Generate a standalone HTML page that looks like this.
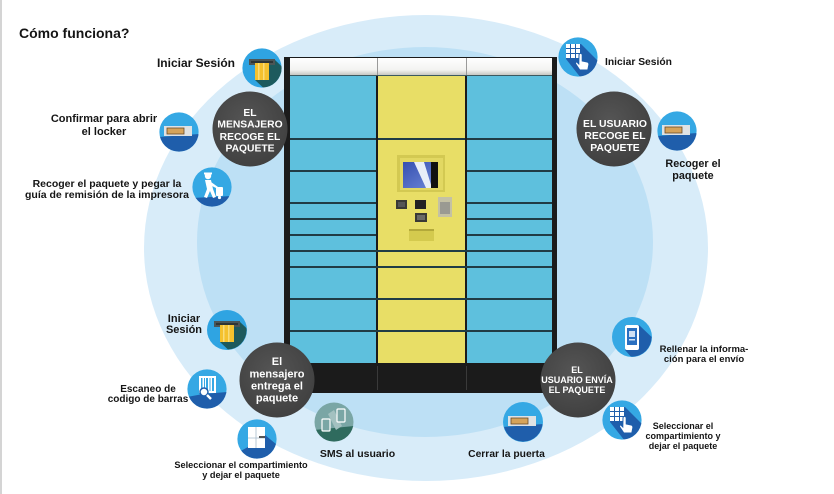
<!DOCTYPE html>
<html><head><meta charset="utf-8"><style>
html,body{margin:0;padding:0;background:#fff;}
svg{display:block;}
text{font-family:"Liberation Sans",Arial,sans-serif;font-weight:bold;}
.l{fill:#151515;}
.m{text-anchor:middle;}
.w{fill:#fff;text-anchor:middle;}
</style></head><body>
<svg width="834" height="494" viewBox="0 0 834 494" xmlns="http://www.w3.org/2000/svg">
<defs>
<clipPath id="ic"><circle cx="0" cy="0" r="19.6"/></clipPath>
<linearGradient id="scr" x1="0" y1="0" x2="1" y2="1">
 <stop offset="0" stop-color="#3550b0"/><stop offset="1" stop-color="#6f88d8"/>
</linearGradient>
<linearGradient id="top" x1="0" y1="0" x2="0" y2="1">
 <stop offset="0" stop-color="#ffffff"/><stop offset="0.7" stop-color="#f3f3f1"/><stop offset="1" stop-color="#c8c8c2"/>
</linearGradient>
<radialGradient id="dk" cx="0.45" cy="0.4" r="0.65">
 <stop offset="0" stop-color="#555"/><stop offset="1" stop-color="#3f3f3f"/>
</radialGradient>
</defs>

<rect width="834" height="494" fill="#fff"/>
<rect x="0" y="0" width="2" height="494" fill="#d4d4d4"/>

<!-- background ellipses -->
<ellipse cx="426" cy="248" rx="282" ry="233" fill="#d8ecf9"/>
<ellipse cx="425" cy="242" rx="228" ry="195" fill="#bde0f5"/>

<!-- locker -->
<rect x="284" y="57" width="273" height="336" fill="#1b1b1b"/>
<rect x="290" y="58" width="262" height="17" fill="url(#top)"/>
<line x1="377.5" y1="58" x2="377.5" y2="75" stroke="#9a9a9a" stroke-width="1"/>
<line x1="466.5" y1="58" x2="466.5" y2="75" stroke="#9a9a9a" stroke-width="1"/>
<rect x="290" y="75" width="86" height="288" fill="#5ec0dd"/>
<rect x="378" y="75" width="87" height="288" fill="#e8de66"/>
<rect x="467" y="75" width="85" height="288" fill="#5ec0dd"/>
<line x1="290" y1="75.5" x2="552" y2="75.5" stroke="#3c5a60" stroke-width="1"/>
<g stroke="#203c45" stroke-width="2">
 <line x1="290" y1="139" x2="376" y2="139"/><line x1="467" y1="139" x2="552" y2="139"/>
 <line x1="290" y1="171" x2="376" y2="171"/><line x1="467" y1="171" x2="552" y2="171"/>
 <line x1="290" y1="203" x2="376" y2="203"/><line x1="467" y1="203" x2="552" y2="203"/>
 <line x1="290" y1="219" x2="376" y2="219"/><line x1="467" y1="219" x2="552" y2="219"/>
 <line x1="290" y1="235" x2="376" y2="235"/><line x1="467" y1="235" x2="552" y2="235"/>
 <line x1="290" y1="251" x2="552" y2="251"/>
 <line x1="290" y1="267" x2="552" y2="267"/>
 <line x1="290" y1="299" x2="552" y2="299"/>
 <line x1="290" y1="331" x2="552" y2="331"/>
 <line x1="378" y1="139" x2="465" y2="139"/>
</g>
<line x1="377.5" y1="366" x2="377.5" y2="390" stroke="#3a3a3a" stroke-width="1"/>
<line x1="466.5" y1="366" x2="466.5" y2="390" stroke="#3a3a3a" stroke-width="1"/>

<!-- control panel -->
<rect x="397" y="155" width="48" height="37" fill="#d3c952"/>
<rect x="400" y="158" width="43" height="32" fill="#e2d862"/>
<rect x="403" y="162" width="35" height="26" fill="url(#scr)"/>
<polygon points="414,162 424,162 432,188 426,188" fill="#e8eef8"/>
<rect x="431" y="162" width="7" height="26" fill="#111"/>
<rect x="396" y="200" width="11" height="9" fill="#3a3a36"/>
<rect x="398" y="202" width="7" height="5" fill="#555"/>
<rect x="415" y="200" width="11" height="9" fill="#222"/>
<rect x="415" y="213" width="12" height="9" fill="#3a3a36"/>
<rect x="417" y="215" width="8" height="5" fill="#6a6a66"/>
<rect x="438" y="197" width="14" height="20" fill="#c4c1a4"/>
<rect x="440" y="202" width="10" height="12" fill="#9a9a92"/>
<rect x="409" y="229" width="25" height="12" fill="#d4ca4e"/>
<rect x="409" y="229" width="25" height="2" fill="#b3a93a"/>

<!-- dark circles -->
<circle cx="250" cy="129" r="37.5" fill="url(#dk)"/>
<circle cx="614" cy="129" r="37.5" fill="url(#dk)"/>
<circle cx="277" cy="380" r="37.5" fill="url(#dk)"/>
<circle cx="578" cy="380" r="37.5" fill="url(#dk)"/>

<text class="w" font-size="10.3" x="250" y="116">EL</text>
<text class="w" font-size="10.3" x="250" y="127.5">MENSAJERO</text>
<text class="w" font-size="10.3" x="250" y="140">RECOGE EL</text>
<text class="w" font-size="10.3" x="250" y="151.5">PAQUETE</text>

<text class="w" font-size="10.4" x="615" y="127">EL USUARIO</text>
<text class="w" font-size="10.4" x="615" y="139">RECOGE EL</text>
<text class="w" font-size="10.4" x="615" y="151">PAQUETE</text>

<text class="w" font-size="11" x="277" y="365">El</text>
<text class="w" font-size="11" x="277" y="377.5">mensajero</text>
<text class="w" font-size="11" x="277" y="389.5">entrega el</text>
<text class="w" font-size="11" x="277" y="401.5">paquete</text>

<text class="w" font-size="9" x="577" y="373">EL</text>
<text class="w" font-size="9" x="577" y="383">USUARIO ENVÍA</text>
<text class="w" font-size="9" x="577" y="393">EL PAQUETE</text>

<!-- ICONS -->
<!-- card TL -->
<g transform="translate(262,68)">
 <circle r="19.6" fill="#2fa4e2"/>
 <g clip-path="url(#ic)">
  <polygon points="13,-8 13,-3 7,-3 7,12 -7,12 8,26 30,26 30,8" fill="#1d5a5d"/>
  <rect x="-13" y="-9" width="26" height="6" fill="#4b5556"/>
  <rect x="-11" y="-7" width="22" height="2" fill="#2d3536"/>
  <rect x="-7" y="-5" width="14" height="17" fill="#f4c12e"/>
  <rect x="-4" y="-5" width="1.5" height="17" fill="#f9dc7a"/>
  <rect x="1" y="-5" width="1.5" height="17" fill="#f9dc7a"/>
 </g>
</g>
<!-- card BL -->
<g transform="translate(227,330)">
 <circle r="20" fill="#2fa4e2"/>
 <g clip-path="url(#ic)">
  <polygon points="13,-8 13,-3 7,-3 7,12 -7,12 8,26 30,26 30,8" fill="#1d5a5d"/>
  <rect x="-13" y="-9" width="26" height="6" fill="#4b5556"/>
  <rect x="-11" y="-7" width="22" height="2" fill="#2d3536"/>
  <rect x="-7" y="-5" width="14" height="17" fill="#f4c12e"/>
  <rect x="-4" y="-5" width="1.5" height="17" fill="#f9dc7a"/>
  <rect x="1" y="-5" width="1.5" height="17" fill="#f9dc7a"/>
 </g>
</g>

<!-- box icons -->
<g transform="translate(179,132)">
 <circle r="19.6" fill="#35a8e4"/>
 <g clip-path="url(#ic)">
  <polygon points="-20,5 20,2 20,22 -20,22" fill="#1f5eab"/>
  <rect x="-15" y="-6" width="28" height="10" fill="#dfe2e4"/>
  <rect x="-12" y="-4" width="17" height="6" fill="#d6a35a" stroke="#6a4a28" stroke-width="0.8"/>
 </g>
</g>
<g transform="translate(677,131)">
 <circle r="19.6" fill="#35a8e4"/>
 <g clip-path="url(#ic)">
  <polygon points="-20,5 20,2 20,22 -20,22" fill="#1f5eab"/>
  <rect x="-15" y="-6" width="28" height="10" fill="#dfe2e4"/>
  <rect x="-12" y="-4" width="17" height="6" fill="#d6a35a" stroke="#6a4a28" stroke-width="0.8"/>
 </g>
</g>
<g transform="translate(523,422)">
 <circle r="20" fill="#35a8e4"/>
 <g clip-path="url(#ic)">
  <polygon points="-20,5 20,2 20,22 -20,22" fill="#1f5eab"/>
  <rect x="-15" y="-6" width="28" height="10" fill="#dfe2e4"/>
  <rect x="-12" y="-4" width="17" height="6" fill="#d6a35a" stroke="#6a4a28" stroke-width="0.8"/>
 </g>
</g>

<!-- person -->
<g transform="translate(212,187)">
 <circle r="19.6" fill="#35a8e4"/>
 <g clip-path="url(#ic)">
  <polygon points="-20,11 20,9 20,22 -20,22" fill="#1f5eab"/>
  <circle cx="-4" cy="-11" r="3.2" fill="#fff"/>
  <rect x="-8" y="-14.5" width="8" height="2" fill="#fff"/>
  <path d="M-7,-7 L-1,-7 L1,2 L4,10 L1,11 L-2,4 L-5,11 L-8,10 L-5,2 Z" fill="#fff"/>
  <path d="M-1,-5 L6,0 L5,1.5 L-2,-2 Z" fill="#fff"/>
  <rect x="4" y="0" width="7" height="9" rx="1" fill="#fff"/>
  <circle cx="7.5" cy="10.5" r="1.6" fill="#fff"/>
 </g>
</g>

<!-- keypad icons -->
<g transform="translate(578,57)">
 <circle r="19.6" fill="#35a8e4"/>
 <g clip-path="url(#ic)">
  <polygon points="-12,-13 3,-13 30,14 30,30 10,30 -12,2" fill="#1f5eab"/>
  <g fill="#fff">
   <rect x="-12" y="-13" width="4" height="4"/><rect x="-7" y="-13" width="4" height="4"/><rect x="-2" y="-13" width="4" height="4"/>
   <rect x="-12" y="-8" width="4" height="4"/><rect x="-7" y="-8" width="4" height="4"/><rect x="-2" y="-8" width="4" height="4"/>
   <rect x="-12" y="-3" width="4" height="4"/><rect x="-7" y="-3" width="4" height="4"/><rect x="-2" y="-3" width="4" height="4"/>
  </g>
  <path d="M1,-2 a1.6,1.6 0 0 1 3.2,0 v6 l5,1 q2,0.5 1.6,3 l-1,5 h-8 l-4,-6 q-1,-2 1,-2 l2,2 z" fill="#fff" stroke="#1f5eab" stroke-width="1"/>
 </g>
</g>
<g transform="translate(622,420)">
 <circle r="19.6" fill="#35a8e4"/>
 <g clip-path="url(#ic)">
  <polygon points="-12,-13 3,-13 30,14 30,30 10,30 -12,2" fill="#1f5eab"/>
  <g fill="#fff">
   <rect x="-12" y="-13" width="4" height="4"/><rect x="-7" y="-13" width="4" height="4"/><rect x="-2" y="-13" width="4" height="4"/>
   <rect x="-12" y="-8" width="4" height="4"/><rect x="-7" y="-8" width="4" height="4"/><rect x="-2" y="-8" width="4" height="4"/>
   <rect x="-12" y="-3" width="4" height="4"/><rect x="-7" y="-3" width="4" height="4"/><rect x="-2" y="-3" width="4" height="4"/>
  </g>
  <path d="M1,-2 a1.6,1.6 0 0 1 3.2,0 v6 l5,1 q2,0.5 1.6,3 l-1,5 h-8 l-4,-6 q-1,-2 1,-2 l2,2 z" fill="#fff" stroke="#1f5eab" stroke-width="1"/>
 </g>
</g>

<!-- phone -->
<g transform="translate(632,337)">
 <circle r="20" fill="#35a8e4"/>
 <g clip-path="url(#ic)">
  <polygon points="-7,-12 7,-12 30,10 30,30 8,30 -7,13" fill="#1f5eab"/>
  <rect x="-7" y="-12" width="14" height="25" rx="2" fill="#fff"/>
  <rect x="-5" y="-9" width="10" height="17" fill="#2a6fc0"/>
  <rect x="-3" y="-6" width="6" height="6" fill="#cfe0f4"/>
  <rect x="-3" y="2" width="6" height="1.5" fill="#cfe0f4"/>
 </g>
</g>

<!-- barcode -->
<g transform="translate(207,389)">
 <circle r="19.6" fill="#35a8e4"/>
 <g clip-path="url(#ic)">
  <polygon points="-20,8 -4,5 20,3 20,22 -20,22" fill="#1f5eab"/>
  <rect x="-8" y="-13" width="17" height="17" fill="#fff"/>
  <g fill="#35a8e4">
   <rect x="-6" y="-11" width="1.5" height="13"/><rect x="-3" y="-11" width="1" height="13"/>
   <rect x="-1" y="-11" width="2" height="13"/><rect x="2.5" y="-11" width="1" height="13"/>
   <rect x="5" y="-11" width="2" height="13"/>
  </g>
  <circle cx="-3" cy="3" r="4" fill="#fff" stroke="#1f5eab" stroke-width="1.5"/>
  <line x1="0" y1="6" x2="4" y2="10" stroke="#fff" stroke-width="2.5"/>
 </g>
</g>

<!-- locker select -->
<g transform="translate(257,439)">
 <circle r="19.6" fill="#35a8e4"/>
 <g clip-path="url(#ic)">
  <polygon points="-9,8 8,8 8,-4 30,14 30,30 -20,30 -20,14" fill="#1f5eab"/>
  <rect x="-9" y="-12" width="17" height="21" fill="#fff"/>
  <line x1="-9" y1="-1" x2="8" y2="-1" stroke="#a9bccc" stroke-width="0.8"/>
  <line x1="-1" y1="-12" x2="-1" y2="9" stroke="#a9bccc" stroke-width="0.8"/>
  <rect x="2" y="-3" width="6" height="2" fill="#555"/>
 </g>
</g>

<!-- SMS -->
<g transform="translate(334,422)">
 <circle r="19.5" fill="#7aa6a5"/>
 <g clip-path="url(#ic)">
  <polygon points="-20,8 20,4 20,22 -20,22" fill="#2f6b5e"/>
  <polygon points="-6,-8 0,-12 8,4 2,8" fill="#a3c1c0"/>
  <rect x="-12" y="-3" width="8" height="12" rx="1" fill="#7aa6a5" stroke="#fff" stroke-width="1.2"/>
  <rect x="3" y="-13" width="8" height="13" rx="1" fill="#7aa6a5" stroke="#fff" stroke-width="1.2"/>
 </g>
</g>

<!-- LABELS -->
<text class="l" font-size="14" x="19" y="38">Cómo funciona?</text>

<text class="l" font-size="12" x="235" y="67" text-anchor="end">Iniciar Sesión</text>
<text class="l m" font-size="11" x="104" y="122">Confirmar para abrir</text>
<text class="l m" font-size="11" x="104" y="135">el locker</text>
<text class="l m" font-size="10.5" x="107" y="187">Recoger el paquete y pegar la</text>
<text class="l m" font-size="10.5" x="107" y="198">guía de remisión de la impresora</text>

<text class="l" font-size="10.3" x="605" y="65">Iniciar Sesión</text>
<text class="l m" font-size="10.8" x="693" y="167">Recoger el</text>
<text class="l m" font-size="10.8" x="693" y="179">paquete</text>

<text class="l m" font-size="11" x="184" y="322">Iniciar</text>
<text class="l m" font-size="11" x="184" y="333">Sesión</text>
<text class="l m" font-size="10" x="148" y="392">Escaneo de</text>
<text class="l m" font-size="10" x="148" y="402">codigo de barras</text>
<text class="l m" font-size="9.2" x="241" y="468">Seleccionar el compartimiento</text>
<text class="l m" font-size="9.2" x="241" y="478">y dejar el paquete</text>

<text class="l m" font-size="10.5" x="357.5" y="457">SMS al usuario</text>
<text class="l m" font-size="10.3" x="506.5" y="457">Cerrar la puerta</text>

<text class="l m" font-size="9.5" x="704" y="352">Rellenar la informa-</text>
<text class="l m" font-size="9.5" x="704" y="362">ción para el envío</text>
<text class="l m" font-size="9" x="683" y="429">Seleccionar el</text>
<text class="l m" font-size="9" x="683" y="439">compartimiento y</text>
<text class="l m" font-size="9" x="683" y="449">dejar el paquete</text>
</svg>
</body></html>
